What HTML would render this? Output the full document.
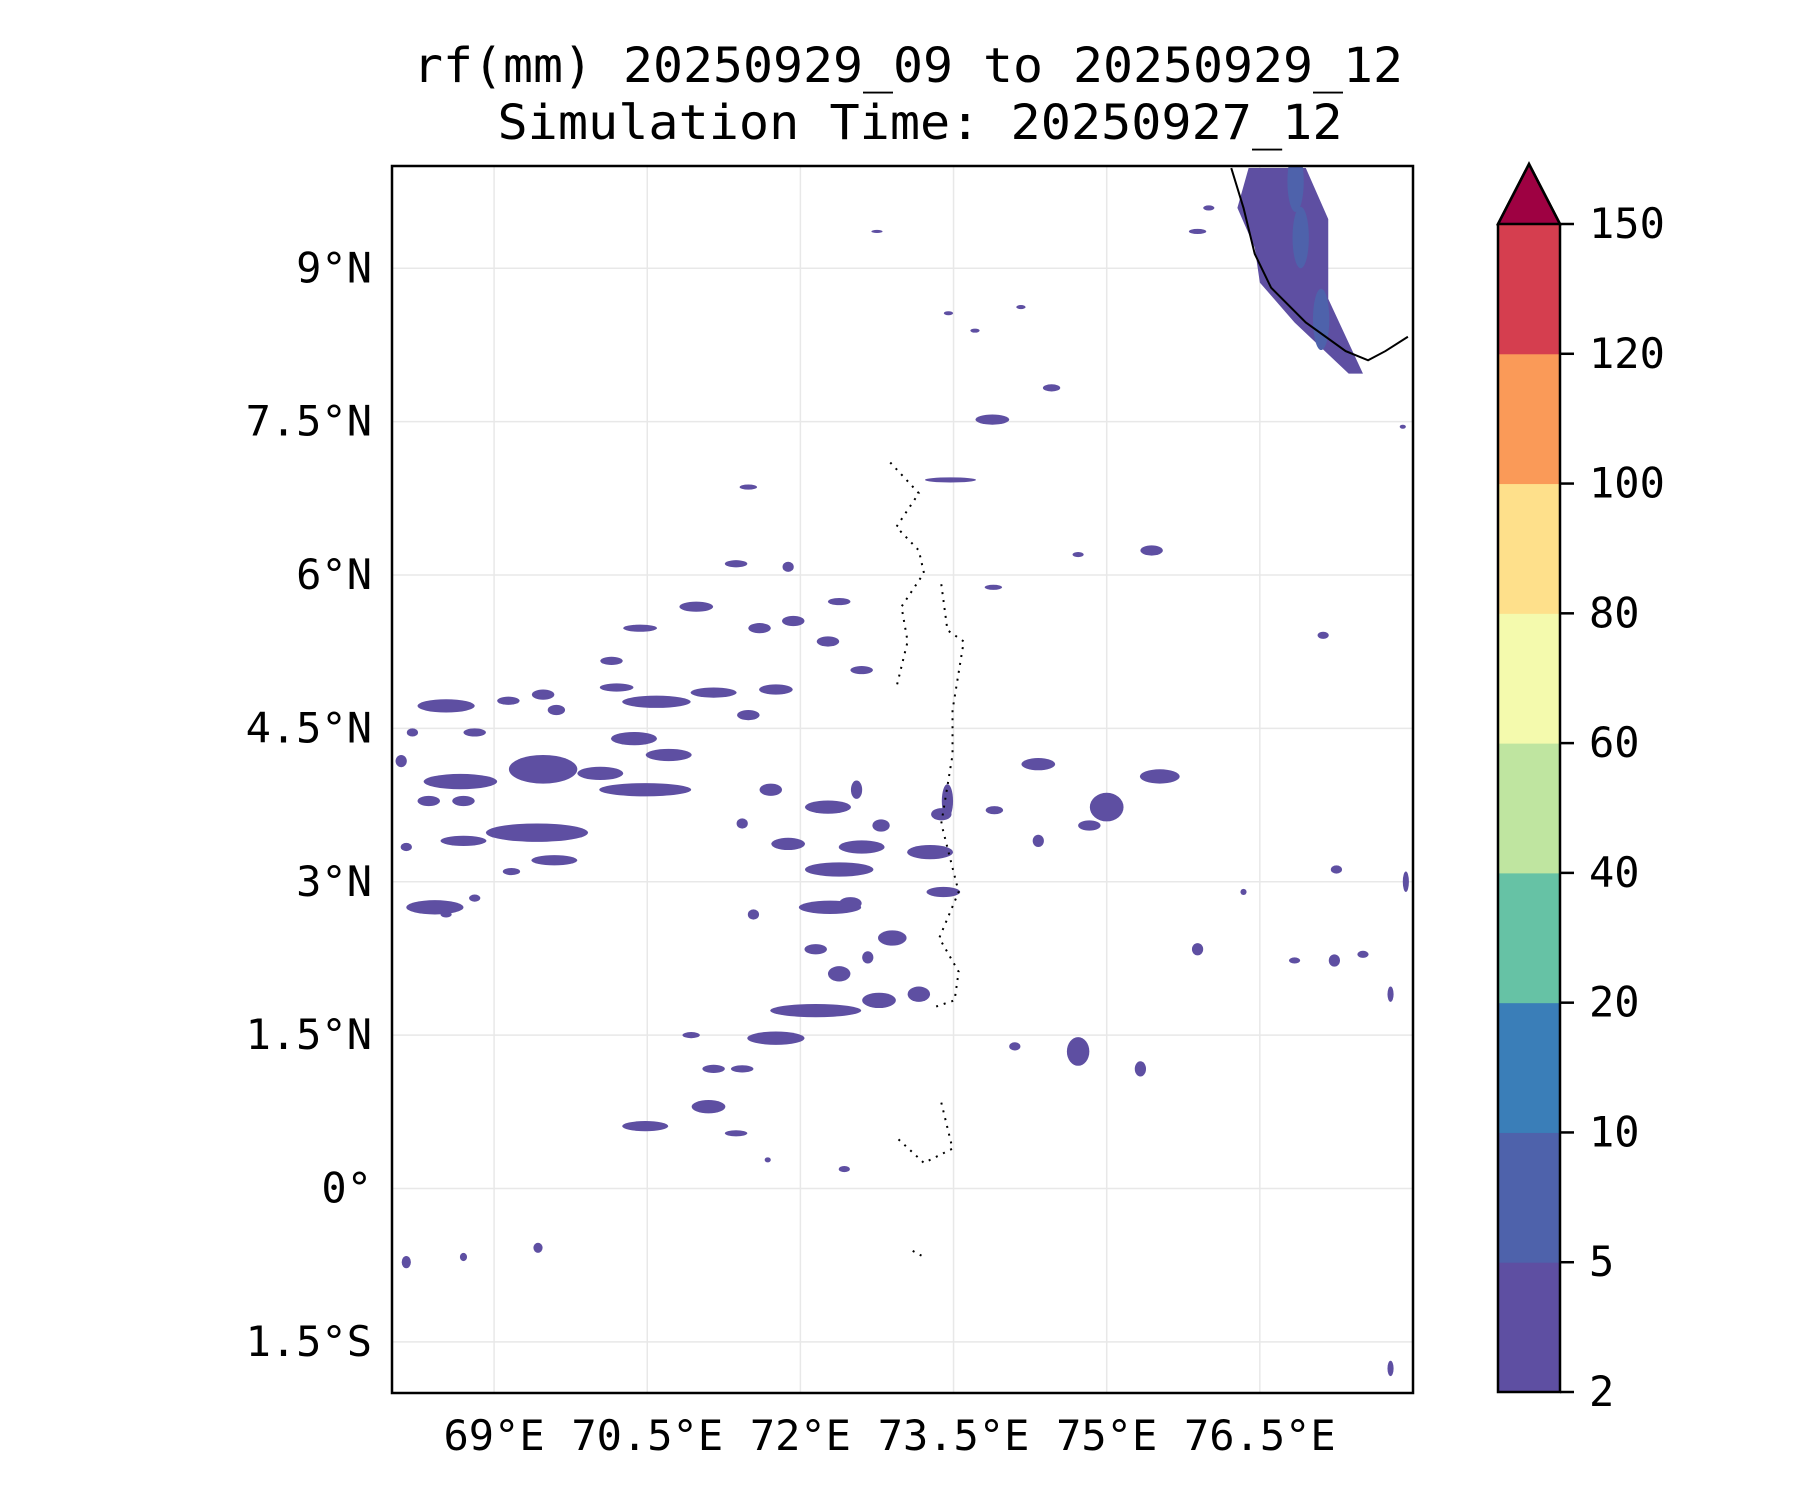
<!DOCTYPE html>
<html><head><meta charset="utf-8"><style>
html,body{margin:0;padding:0;background:#fff;}
svg{display:block;font-family:"DejaVu Sans Mono","Liberation Mono",monospace;}
</style></head><body>
<svg id="chart" width="1800" height="1500" viewBox="0 0 1800 1500">
<text x="908" y="82" font-size="48" text-anchor="middle" textLength="990" lengthAdjust="spacingAndGlyphs">rf(mm) 20250929_09 to 20250929_12</text>
<text x="920" y="139" font-size="48" text-anchor="middle" textLength="845" lengthAdjust="spacingAndGlyphs">Simulation Time: 20250927_12</text>
<g id="map"></g>
<g id="cbar"></g>
</svg>
<script>
const lonTicks=[69,70.5,72,73.5,75,76.5];
const lonLabels=["69°E","70.5°E","72°E","73.5°E","75°E","76.5°E"];
const latTicks=[9,7.5,6,4.5,3,1.5,0,-1.5];
const latLabels=["9°N","7.5°N","6°N","4.5°N","3°N","1.5°N","0°","1.5°S"];
const cbLevels=[2,5,10,20,40,60,80,100,120,150];
const cbColors=["#5e4fa2","#4e62ab","#3a7eb8","#66c2a5","#bfe5a0","#f4faad","#fee08b","#fa9a58","#d53e4f"];
const extendColor="#9e0142";
// rain cells: [lon, lat, widthDeg, heightDeg]
const rainCells=[[68.53,4.72,0.56,0.13],[68.67,3.98,0.72,0.15],[69.48,4.1,0.67,0.28],[70.04,4.06,0.45,0.13],[69.42,3.48,1.0,0.18],[70.48,3.9,0.9,0.13],[70.59,4.76,0.67,0.12],[70.37,4.4,0.45,0.13],[70.71,4.24,0.45,0.12],[72.29,2.75,0.61,0.13],[72.15,1.74,0.89,0.13],[72.38,3.12,0.67,0.14],[72.6,3.34,0.45,0.13],[73.27,3.29,0.45,0.14],[72.27,3.73,0.45,0.13],[74.72,1.34,0.22,0.28],[75.0,3.73,0.33,0.28],[75.52,4.03,0.39,0.14],[74.33,4.15,0.33,0.12],[68.42,2.75,0.56,0.14],[70.48,0.61,0.45,0.1],[71.1,0.8,0.33,0.13],[71.76,1.47,0.56,0.13],[73.88,7.52,0.33,0.1],[73.47,6.93,0.5,0.05],[74.46,7.83,0.17,0.07],[75.44,6.24,0.22,0.1],[72.77,1.84,0.33,0.15],[68.09,4.18,0.11,0.12],[69.59,3.21,0.45,0.1],[70.98,5.69,0.33,0.1],[70.43,5.48,0.33,0.07],[71.6,5.48,0.22,0.1],[71.93,5.55,0.22,0.1],[72.38,5.74,0.22,0.07],[71.15,4.85,0.45,0.1],[71.76,4.88,0.33,0.1],[70.15,5.16,0.22,0.08],[71.37,6.11,0.22,0.07],[71.88,6.08,0.11,0.1],[73.89,5.88,0.17,0.05],[74.72,6.2,0.11,0.05],[77.12,5.41,0.11,0.07],[71.49,4.63,0.22,0.1],[72.27,5.35,0.22,0.1],[72.6,5.07,0.22,0.08],[70.2,4.9,0.33,0.08],[69.14,4.77,0.22,0.08],[69.48,4.83,0.22,0.1],[68.81,4.46,0.22,0.08],[68.2,4.46,0.11,0.08],[69.61,4.68,0.17,0.1],[68.36,3.79,0.22,0.1],[68.7,3.79,0.22,0.1],[68.7,3.4,0.45,0.1],[68.14,3.34,0.11,0.08],[69.17,3.1,0.17,0.07],[68.81,2.84,0.11,0.07],[68.53,2.68,0.11,0.06],[71.43,3.57,0.11,0.1],[71.71,3.9,0.22,0.12],[71.88,3.37,0.33,0.12],[72.55,3.9,0.11,0.18],[73.44,3.79,0.11,0.33],[72.79,3.55,0.17,0.12],[73.9,3.7,0.17,0.08],[74.33,3.4,0.11,0.12],[74.83,3.55,0.22,0.1],[73.4,2.9,0.33,0.1],[72.9,2.45,0.28,0.15],[72.38,2.1,0.22,0.15],[72.66,2.26,0.11,0.12],[73.16,1.9,0.22,0.15],[71.54,2.68,0.11,0.1],[72.15,2.34,0.22,0.1],[72.49,2.79,0.22,0.12],[74.1,1.39,0.11,0.08],[75.33,1.17,0.11,0.15],[75.89,2.34,0.11,0.12],[77.25,3.12,0.11,0.08],[77.23,2.23,0.11,0.12],[77.51,2.29,0.11,0.07],[77.78,1.9,0.06,0.15],[76.84,2.23,0.11,0.06],[76.34,2.9,0.06,0.06],[71.15,1.17,0.22,0.08],[71.43,1.17,0.22,0.07],[71.37,0.54,0.22,0.06],[72.43,0.19,0.11,0.06],[71.68,0.28,0.06,0.05],[77.78,-1.76,0.06,0.15],[68.14,-0.72,0.09,0.12],[68.7,-0.67,0.07,0.08],[69.43,-0.58,0.09,0.1],[77.9,7.45,0.06,0.04],[77.93,3.0,0.06,0.2],[72.75,9.36,0.11,0.03],[75.89,9.36,0.17,0.05],[76.0,9.59,0.11,0.05],[74.16,8.62,0.09,0.04],[73.45,8.56,0.09,0.04],[73.71,8.39,0.09,0.04],[71.49,6.86,0.17,0.05],[73.38,3.66,0.2,0.12],[70.93,1.5,0.17,0.06]];
const coastRainLon=[76.39,76.95,77.17,77.17,77.51,77.37,76.84,76.5,76.45,76.28];
const coastRainLat=[9.98,9.98,9.48,8.7,7.97,7.97,8.47,8.86,9.2,9.59];
const heavyLon=[76.85,76.9,77.1];
const heavyLat=[9.85,9.3,8.5];
const coastLon=[76.22,76.34,76.45,76.61,76.95,77.34,77.56,77.73,77.95];
const coastLat=[9.98,9.59,9.14,8.81,8.47,8.19,8.1,8.19,8.33];
const islandsLon=[[72.88,73.16,72.94,73.16,73.21,72.99,73.05,72.94],[73.38,73.44,73.6,73.49,73.49,73.38,73.55,73.36,73.55,73.51,73.33],[73.38,73.49,73.21,72.94],[73.1,73.21]];
const islandsLat=[[7.1,6.8,6.47,6.24,6.02,5.69,5.35,4.9],[5.91,5.46,5.35,4.68,4.24,3.57,2.9,2.45,2.12,1.84,1.78],[0.84,0.39,0.25,0.5],[-0.61,-0.67]];

const NS="http://www.w3.org/2000/svg";
const X0=392,X1=1413,Y0=166,Y1=1393,LON0=68,LON1=78,LAT0=-2,LAT1=10;
const xS=v=>X0+(v-LON0)/(LON1-LON0)*(X1-X0);
const yS=v=>Y1-(v-LAT0)/(LAT1-LAT0)*(Y1-Y0);
const kx=(X1-X0)/(LON1-LON0), ky=(Y1-Y0)/(LAT1-LAT0);
function mk(tag,attrs,parent){const e=document.createElementNS(NS,tag);for(const k in attrs)e.setAttribute(k,attrs[k]);parent.appendChild(e);return e;}
const map=document.getElementById('map');
const defs=mk('defs',{},map);
const cp=mk('clipPath',{id:'clip'},defs);
mk('rect',{x:X0,y:Y0,width:X1-X0,height:Y1-Y0},cp);
const grid=mk('g',{},map);


lonTicks.forEach(v=>{const l=mk('line',{x1:xS(v),x2:xS(v),y1:Y0,y2:Y1,stroke:'#e8e8e8','stroke-width':1.5},grid);

});
latTicks.forEach(v=>{const l=mk('line',{x1:X0,x2:X1,y1:yS(v),y2:yS(v),stroke:'#e8e8e8','stroke-width':1.5},grid);

});
const rain=mk('g',{'clip-path':'url(#clip)'},map);


const pts=(lo,la)=>lo.map((v,i)=>xS(v)+','+yS(la[i])).join(' ');
const cr=mk('polygon',{points:pts(coastRainLon,coastRainLat),fill:cbColors[0]},rain);


heavyLon.forEach((v,i)=>{const e=mk('ellipse',{cx:xS(v),cy:yS(heavyLat[i]),rx:0.08*kx,ry:0.3*ky,fill:cbColors[1]},rain);

});
rainCells.forEach(c=>{const e=mk('ellipse',{cx:xS(c[0]),cy:yS(c[1]),rx:c[2]/2*kx,ry:c[3]/2*ky,fill:cbColors[0]},rain);

});
const coast=mk('polyline',{points:pts(coastLon,coastLat),fill:'none',stroke:'#000','stroke-width':2,'clip-path':'url(#clip)'},map);


islandsLon.forEach((lo,i)=>{const p=mk('polyline',{points:pts(lo,islandsLat[i]),fill:'none',stroke:'#000','stroke-width':2,'stroke-dasharray':'2 6'},map);

});
const fr=mk('rect',{x:X0,y:Y0,width:X1-X0,height:Y1-Y0,fill:'none',stroke:'#000','stroke-width':2.5},map);


lonTicks.forEach((v,i)=>{const t=mk('text',{x:xS(v),y:1450,'font-size':42,'text-anchor':'middle'},map);t.textContent=lonLabels[i];

});
latTicks.forEach((v,i)=>{const t=mk('text',{x:372,y:yS(v)+14,'font-size':42,'text-anchor':'end'},map);t.textContent=latLabels[i];

});
// colorbar
const cb=document.getElementById('cbar');
const CX0=1498,CX1=1560,CB0=1392,CT=224,TIP=164;
const step=(CB0-CT)/(cbLevels.length-1);
cbColors.forEach((c,i)=>{const r=mk('rect',{x:CX0,y:CB0-(i+1)*step,width:CX1-CX0,height:step+0.5,fill:c},cb);

});
const tri=mk('polygon',{points:`${CX0},${CT} ${CX1},${CT} ${(CX0+CX1)/2},${TIP}`,fill:extendColor,stroke:'#000','stroke-width':2.5},cb);


const ob=mk('polygon',{points:`${CX0},${CB0} ${CX0},${CT} ${(CX0+CX1)/2},${TIP} ${CX1},${CT} ${CX1},${CB0}`,fill:'none',stroke:'#000','stroke-width':2.5},cb);


cbLevels.forEach((v,i)=>{const y=CB0-i*step;
const l=mk('line',{x1:CX1,x2:CX1+14,y1:y,y2:y,stroke:'#000','stroke-width':2.5},cb);


const t=mk('text',{x:CX1+29,y:y+14,'font-size':42},cb);t.textContent=v;

});
</script>
</body></html>
